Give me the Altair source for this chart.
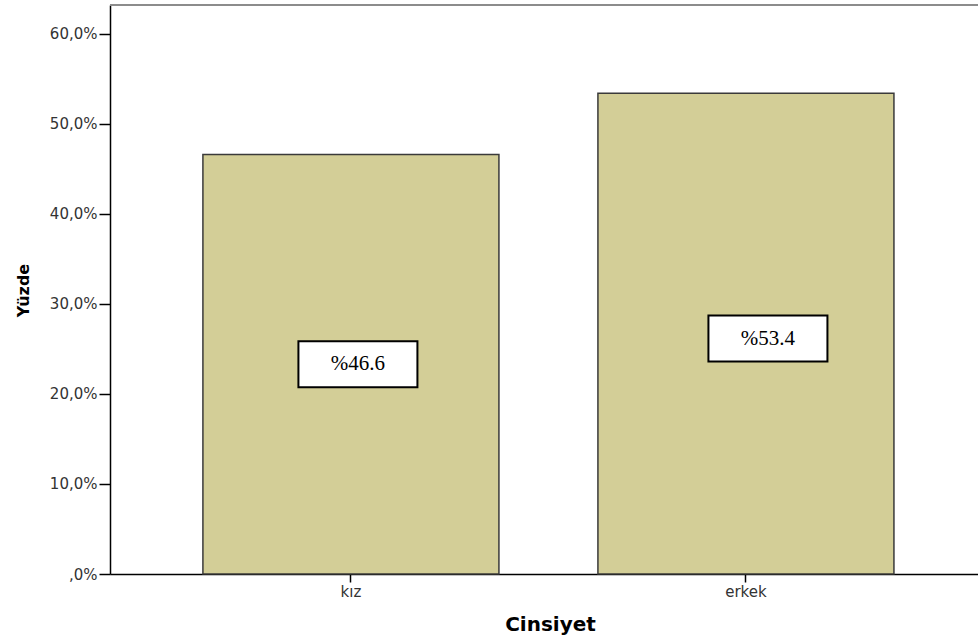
import altair as alt
import pandas as pd

# Gender distribution (percent of respondents)
categories = ["kız", "erkek"]
percents = [46.6, 53.4]
y_ticks = [0, 10, 20, 30, 40, 50, 60]

df = pd.DataFrame({"Cinsiyet": categories, "Yuzde": percents})

W, H = 868, 569
BAR_FILL = "#d3ce97"
AXIS_FONT = "DejaVu Sans"

x_enc = alt.X(
    "Cinsiyet:N",
    sort=categories,
    scale=alt.Scale(paddingInner=0.2506, paddingOuter=0.224, align=0.525),
    axis=alt.Axis(
        title="Cinsiyet",
        labelAngle=0,
        labelFont=AXIS_FONT,
        labelFontSize=15,
        labelColor="#333333",
        labelPadding=2,
        tickSize=8,
        tickColor="#000000",
        tickWidth=1.5,
        domainColor="#000000",
        domainWidth=1.5,
        titleFont=AXIS_FONT,
        titleFontSize=20,
        titleFontWeight="bold",
        titleColor="#000000",
        titleX=440,
        titleY=56,
        titleBaseline="alphabetic",
        titleAlign="center",
    ),
)

y_scale = alt.Scale(domain=[0, 63.2], nice=False, zero=True)
y_axis = alt.Axis(
    title="Yüzde",
    values=y_ticks,
    labelExpr="datum.value == 0 ? ',0%' : replace(format(datum.value, '.1f'), '.', ',') + '%'",
    labelFont=AXIS_FONT,
    labelFontSize=15,
    labelColor="#333333",
    labelPadding=2,
    tickSize=11,
    tickColor="#000000",
    tickWidth=1.5,
    domainColor="#000000",
    domainWidth=1.5,
    grid=False,
    titleFont=AXIS_FONT,
    titleFontSize=16,
    titleFontWeight="bold",
    titleColor="#000000",
    titleAngle=-90,
    titleX=-82,
    titleY=285,
    titleBaseline="alphabetic",
    titleAlign="center",
)

base = alt.Chart(df)

bars = base.mark_bar(
    color=BAR_FILL, stroke="#3a3a3a", strokeWidth=1.5
).encode(
    x=x_enc,
    y=alt.Y("Yuzde:Q", scale=y_scale, axis=y_axis),
)

# White label boxes centred at half the bar height
box_path = "M-1,-0.3866L1,-0.3866L1,0.3866L-1,0.3866Z"
mid = base.transform_calculate(half="datum.Yuzde / 2", lab="'%' + format(datum.Yuzde, '.1f')")

def label_layers(cat, dx, dy):
    sub = mid.transform_filter(alt.datum.Cinsiyet == cat)
    enc = dict(
        x=alt.X("Cinsiyet:N", sort=categories),
        y=alt.Y("half:Q"),
    )
    box = sub.mark_point(
        shape=box_path, size=14161, filled=True, fill="#ffffff",
        stroke="#000000", strokeWidth=2, opacity=1, xOffset=dx, yOffset=dy,
    ).encode(**enc)
    txt = sub.mark_text(
        font="Liberation Serif", fontSize=21, color="#000000",
        baseline="middle", align="center", xOffset=dx, yOffset=dy,
    ).encode(text="lab:N", **enc)
    return box + txt

# Grey frame line along the top of the plot
top_line = alt.Chart(df).mark_rule(color="#8c8c8c", strokeWidth=2).encode(
    x=alt.value(0), x2=alt.value(W), y=alt.value(0)
)

chart = alt.layer(
    bars,
    label_layers("kız", 7, 0),
    label_layers("erkek", 22, 5),
    top_line,
).properties(
    width=W,
    height=H,
    padding={"left": 110, "top": 5, "right": 0, "bottom": 62},
    autosize=alt.AutoSizeParams(type="none"),
    background="#ffffff",
).configure_view(stroke=None)

chart.save("out.html", embed_options={"renderer": "svg", "actions": False})
